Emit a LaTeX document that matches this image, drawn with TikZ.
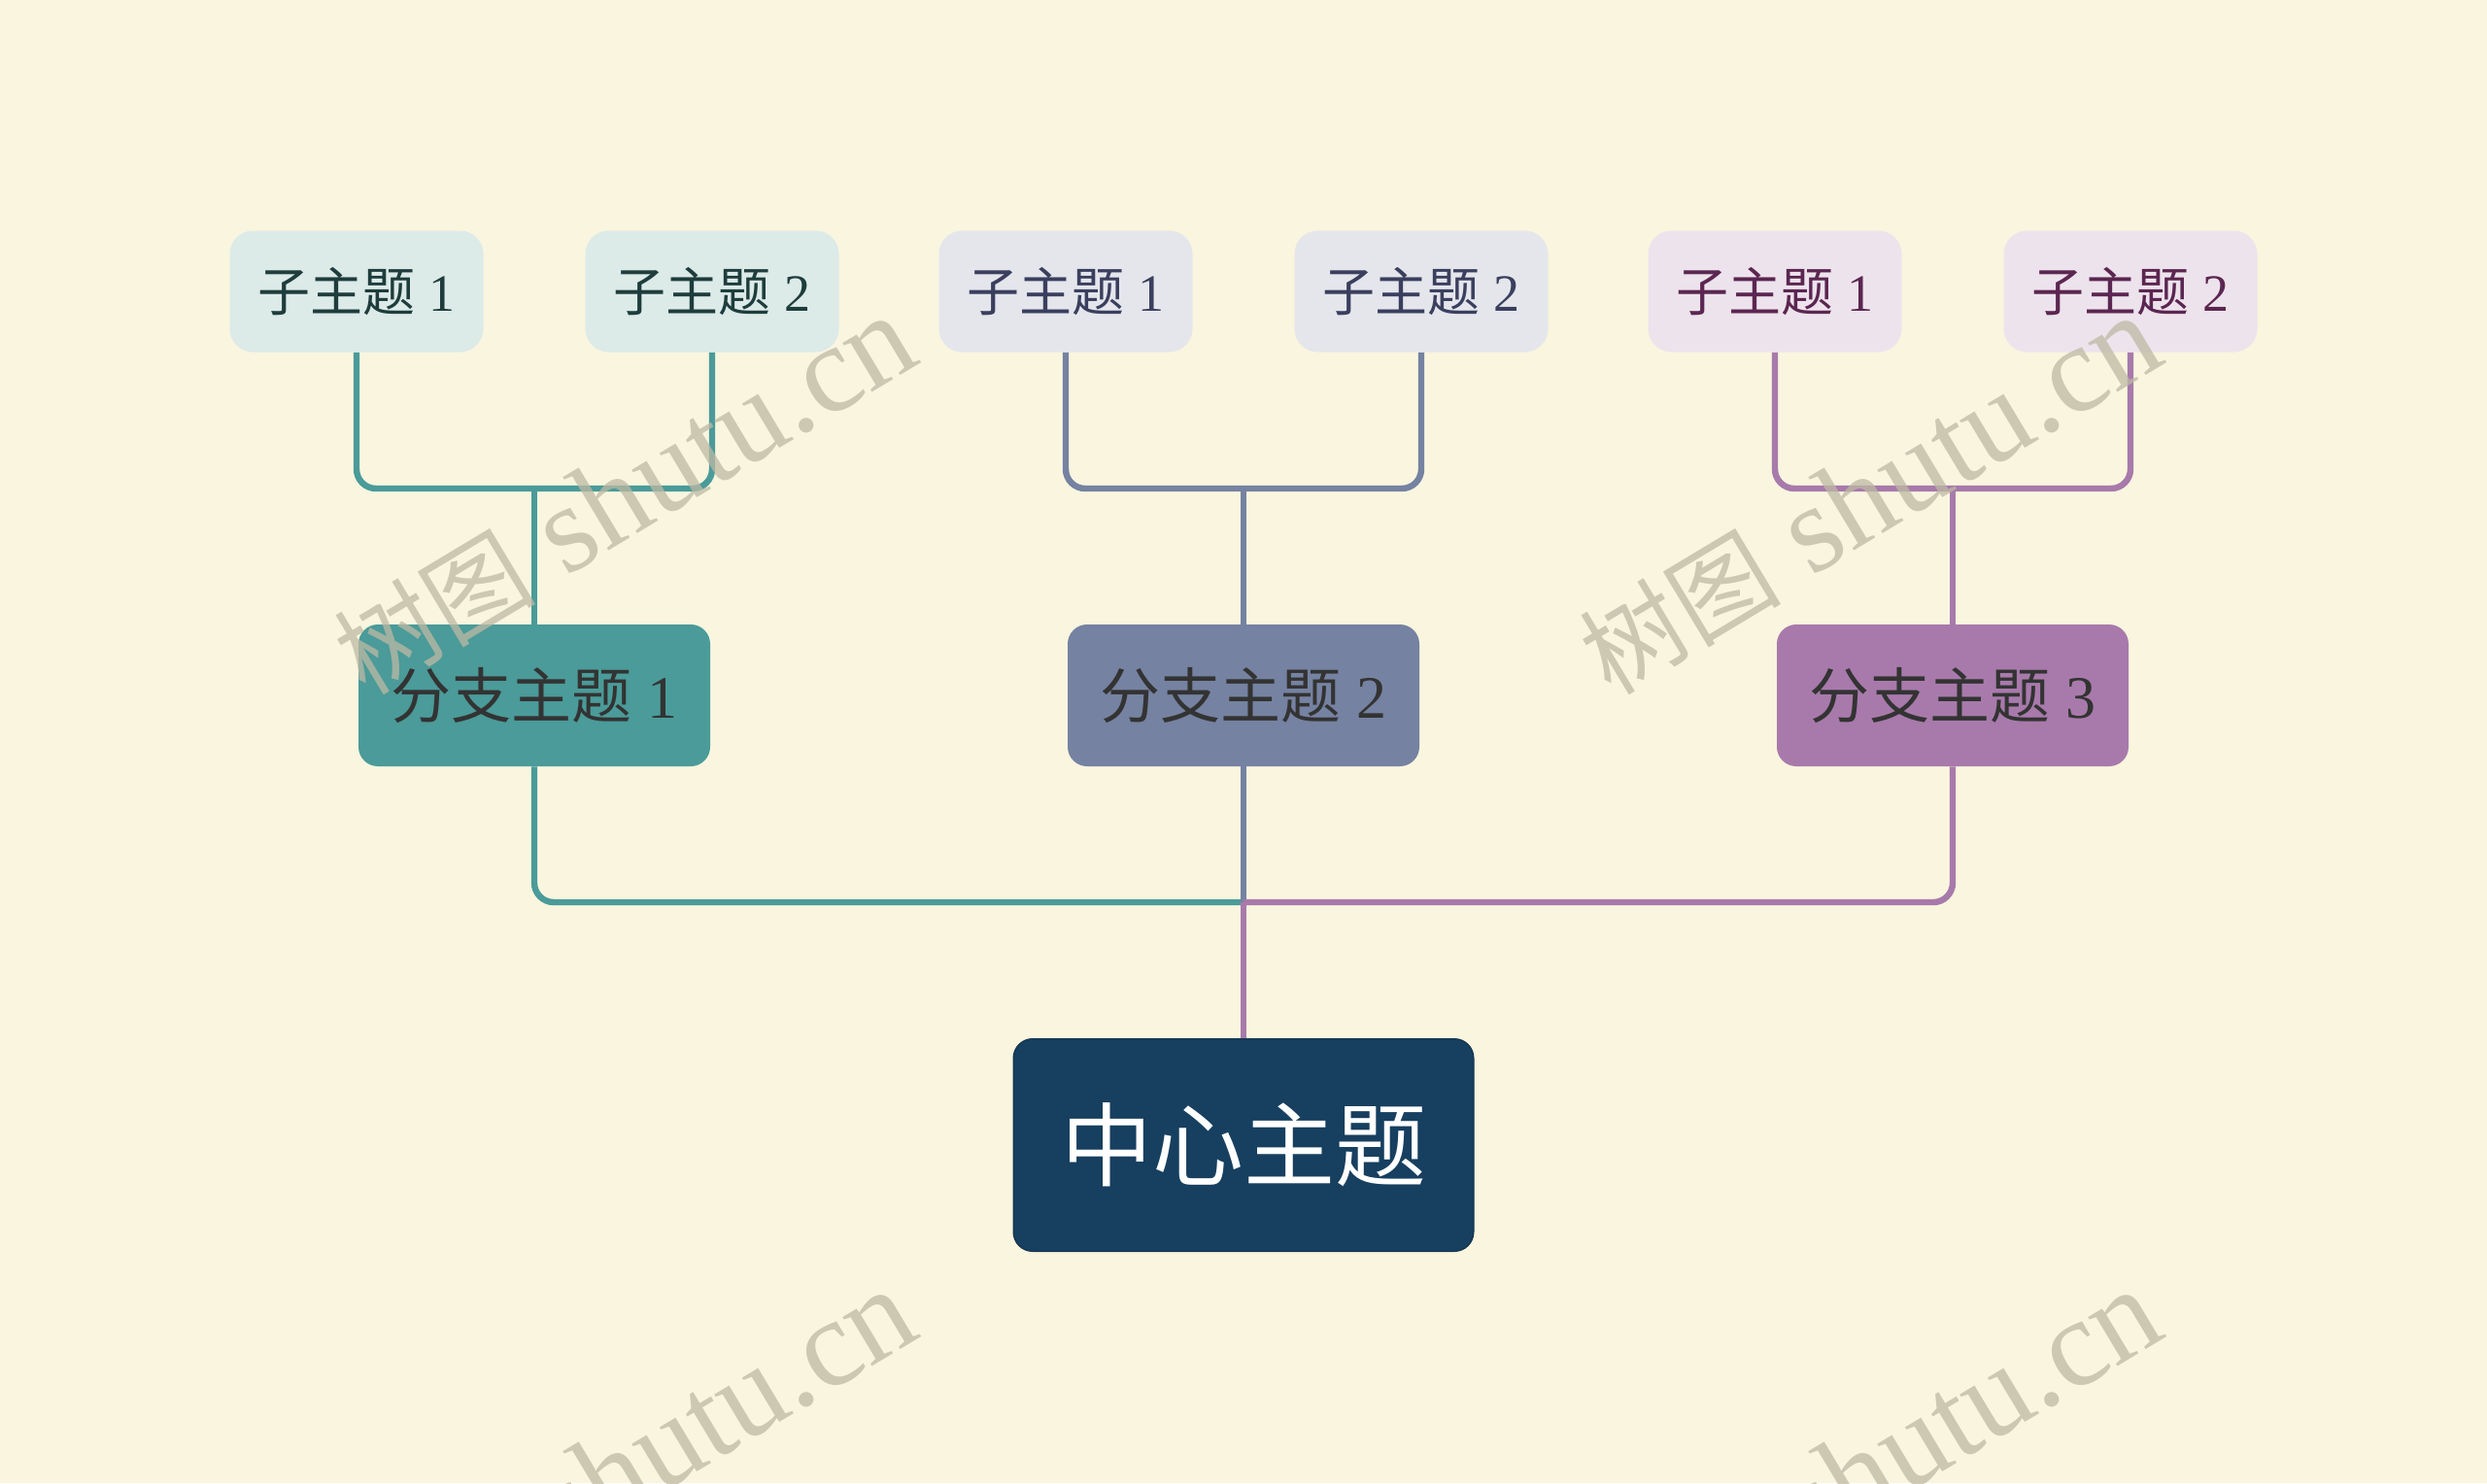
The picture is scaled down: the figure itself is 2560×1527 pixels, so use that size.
\documentclass[tikz,border=0pt]{standalone}
\usepackage{fontspec}
\setmainfont{Liberation Serif}
\newfontfamily\cjk{Noto Sans CJK SC}
\usetikzlibrary{positioning}
\definecolor{bgc}{HTML}{F9F5DF}
\definecolor{tealc}{HTML}{4A9B99}
\definecolor{grayc}{HTML}{7582A1}
\definecolor{purpc}{HTML}{A87AAB}
\definecolor{centc}{HTML}{173F5F}
\definecolor{subAf}{HTML}{DCEAE8}
\definecolor{subBf}{HTML}{E4E6EC}
\definecolor{subCf}{HTML}{EDE3EC}
\definecolor{subAt}{HTML}{1E3D3C}
\definecolor{subBt}{HTML}{3B3F5E}
\definecolor{subCt}{HTML}{5B2651}
\definecolor{brt}{HTML}{333333}
\definecolor{wmc}{HTML}{BDB9A4}
\newcommand{\wmtext}{{\cjk\fontsize{52}{58}\selectfont 树图} shutu.cn}
\tikzset{
  subbox/.style={rounded corners=12pt, minimum width=130.5pt, minimum height=62.5pt, inner sep=0pt, font=\fontsize{27}{30}\selectfont},
  brbox/.style={rounded corners=10pt, minimum width=181pt, minimum height=73pt, inner sep=0pt, text=brt, font=\fontsize{31}{34}\selectfont},
  centbox/.style={rounded corners=10pt, fill=centc, draw=centc!80!black, line width=0.5pt, minimum width=237pt, minimum height=109.5pt, inner sep=0pt, text=white, font=\cjk\fontsize{47}{52}\selectfont},
  conn/.style={line width=3.2pt, rounded corners=10pt},
  wmark/.style={anchor=base west, rotate=31, text=wmc, text opacity=0.75, inner sep=0pt, font=\fontsize{64}{70}\selectfont}
}
\begin{document}
\begin{tikzpicture}[x=0.5pt, y=-0.5pt]
\fill[bgc] (0,0) rectangle (2560,1527);
\useasboundingbox (0,0) rectangle (2560,1527);
\clip (0,0) rectangle (2560,1527);

% sub topics
\node[subbox, fill=subAf, text=subAt] (s1a) at (367,300) {{\cjk 子主题} 1};
\node[subbox, fill=subAf, text=subAt] (s1b) at (733,300) {{\cjk 子主题} 2};
\node[subbox, fill=subBf, text=subBt] (s2a) at (1097,300) {{\cjk 子主题} 1};
\node[subbox, fill=subBf, text=subBt] (s2b) at (1463,300) {{\cjk 子主题} 2};
\node[subbox, fill=subCf, text=subCt] (s3a) at (1827,300) {{\cjk 子主题} 1};
\node[subbox, fill=subCf, text=subCt] (s3b) at (2193,300) {{\cjk 子主题} 2};

% branches
\node[brbox, fill=tealc] (b1) at (550,716) {{\cjk 分支主题} 1};
\node[brbox, fill=grayc] (b2) at (1280,716) {{\cjk 分支主题} 2};
\node[brbox, fill=purpc] (b3) at (2010,716) {{\cjk 分支主题} 3};

% center
\node[centbox] (c) at (1280,1179) {中心主题};

% junctions
\coordinate (j1) at (550,503);
\coordinate (j2) at (1280,503);
\coordinate (j3) at (2010,503);
\coordinate (jc) at (1280,929);

% connectors
\draw[conn, tealc] (s1a.south) |- (j1) -| (s1b.south);
\draw[conn, tealc] (j1) -- (b1.north);
\draw[conn, grayc] (s2a.south) |- (j2) -| (s2b.south);
\draw[conn, grayc] (j2) -- (b2.north);
\draw[conn, purpc] (s3a.south) |- (j3) -| (s3b.south);
\draw[conn, purpc] (j3) -- (b3.north);

\draw[conn, tealc] (b1.south) |- (jc);
\draw[conn, grayc] (b2.south) -- (jc);
\draw[conn, purpc] (b3.south) |- (jc);
\draw[conn, purpc] (jc) -- (c.north);

% watermarks
\node[wmark] (w1) at (376,718) {\wmtext};
\node[wmark] (w2) at (1658,718) {\wmtext};
\node[wmark] (w3) at (376,1721) {\wmtext};
\node[wmark] (w4) at (1658,1721) {\wmtext};
\end{tikzpicture}
\end{document}
